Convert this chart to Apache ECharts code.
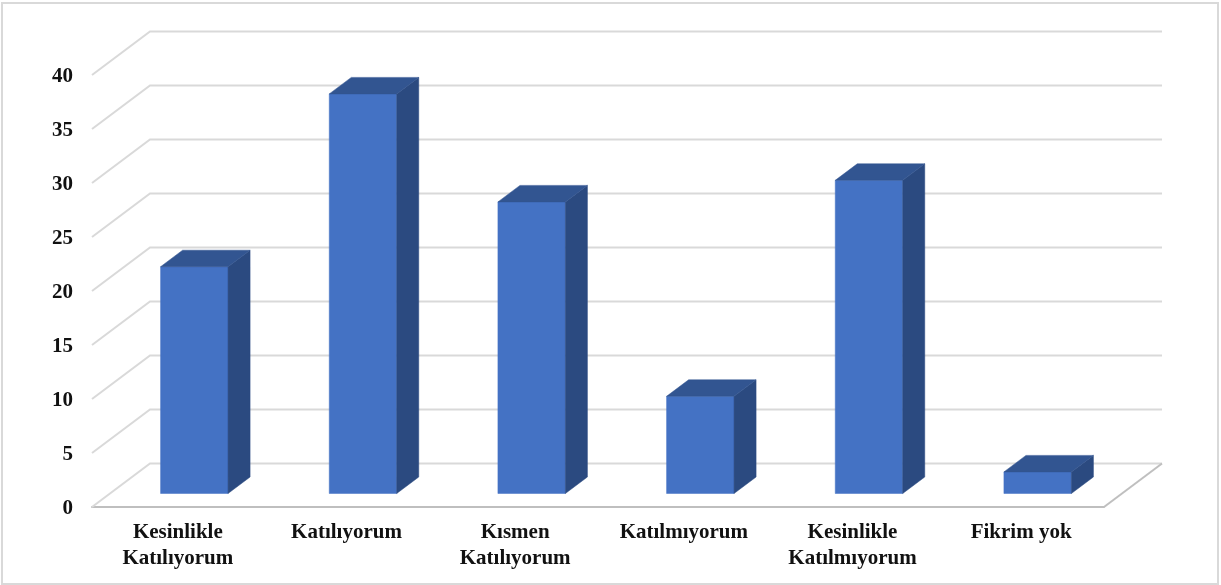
<!DOCTYPE html>
<html>
<head>
<meta charset="utf-8">
<style>html,body{margin:0;padding:0;background:#fff}#c{width:1221px;height:585px}</style>
<script src="https://cdn.jsdelivr.net/npm/echarts@6/dist/echarts.min.js"></script>
</head>
<body>
<div id="c"></div>
<script>
const categories = ['Kesinlikle\nKatılıyorum', 'Katılıyorum', 'Kısmen\nKatılıyorum', 'Katılmıyorum', 'Kesinlikle\nKatılmıyorum', 'Fikrim yok'];
const values = [21, 37, 27, 9, 29, 2];
const gridTicks = [0, 5, 10, 15, 20, 25, 30, 35, 40];

const DX = 58, DY = -43.5;
const FRONT = 0.31, BACK = 0.69, WIDTH = 0.4;
const FONT = '"Liberation Serif","Times New Roman",serif';
const chart = echarts.init(document.getElementById('c'), null, {renderer: 'canvas'});

function wall(params, api) {
  const v = api.value(0);
  const cs = params.coordSys;
  const y = api.coord([0, v])[1];
  const x0 = cs.x, x1 = cs.x + cs.width;
  const st = {stroke: '#d9d9d9', lineWidth: 2, fill: null};
  const children = [
    {type: 'polyline', shape: {points: [[x0, y], [x0 + DX, y + DY], [x1 + DX, y + DY]]}, style: st}
  ];
  if (v === 0) {
    children.push({type: 'line', shape: {x1: x1, y1: y, x2: x1 + DX, y2: y + DY}, style: {stroke: '#bfbfbf', lineWidth: 2}});
  }
  return {type: 'group', children};
}

function bar3d(params, api) {
  const p = api.coord([api.value(0), api.value(1)]);
  const base = api.coord([api.value(0), 0]);
  const w = api.size([1, 0])[0] * WIDTH;
  const l = p[0] + DX * FRONT - w / 2, r = l + w;
  const t = p[1] + DY * FRONT, b = base[1] + DY * FRONT;
  const ox = DX * (BACK - FRONT), oy = DY * (BACK - FRONT);
  const poly = (points, fill) => ({type: 'polygon', shape: {points}, style: {fill, stroke: fill, lineWidth: 0.5}});
  return {type: 'group', children: [
    poly([[l, b], [r, b], [r, t], [l, t]], '#4472c4'),
    poly([[r, b], [r + ox, b + oy], [r + ox, t + oy], [r, t]], '#2b4a80'),
    poly([[l, t], [r, t], [r + ox, t + oy], [l + ox, t + oy]], '#325591')
  ]};
}

chart.setOption({
  animation: false,
  backgroundColor: '#ffffff',
  grid: {left: 92, right: 117, top: 75, bottom: 78},
  graphic: [{type: 'rect', silent: true, shape: {x: 2, y: 3, width: 1216, height: 581},
    style: {fill: null, stroke: '#d9d9d9', lineWidth: 2}}],
  xAxis: {
    type: 'category', data: categories,
    axisTick: {show: false},
    axisLine: {show: true, lineStyle: {color: '#bfbfbf', width: 2}},
    axisLabel: {fontFamily: FONT, fontWeight: 'bold', fontSize: 21, color: '#111', margin: 13, lineHeight: 26, interval: 0, padding: [0, 0, 0, 3]}
  },
  yAxis: {
    type: 'value', min: 0, max: 40, interval: 5,
    axisLine: {show: false}, axisTick: {show: false}, splitLine: {show: false},
    axisLabel: {fontFamily: FONT, fontWeight: 'bold', fontSize: 21, color: '#111', margin: 19, verticalAlign: 'top', lineHeight: 4}
  },
  series: [
    {type: 'custom', name: 'grid', silent: true, clip: false, z: 1, renderItem: wall, data: gridTicks.map(v => [v]), encode: {y: 0}},
    {type: 'custom', name: 'values', silent: true, clip: false, z: 2, renderItem: bar3d, data: values.map((v, i) => [i, v]), encode: {x: 0, y: 1}}
  ]
});
</script>
</body>
</html>
